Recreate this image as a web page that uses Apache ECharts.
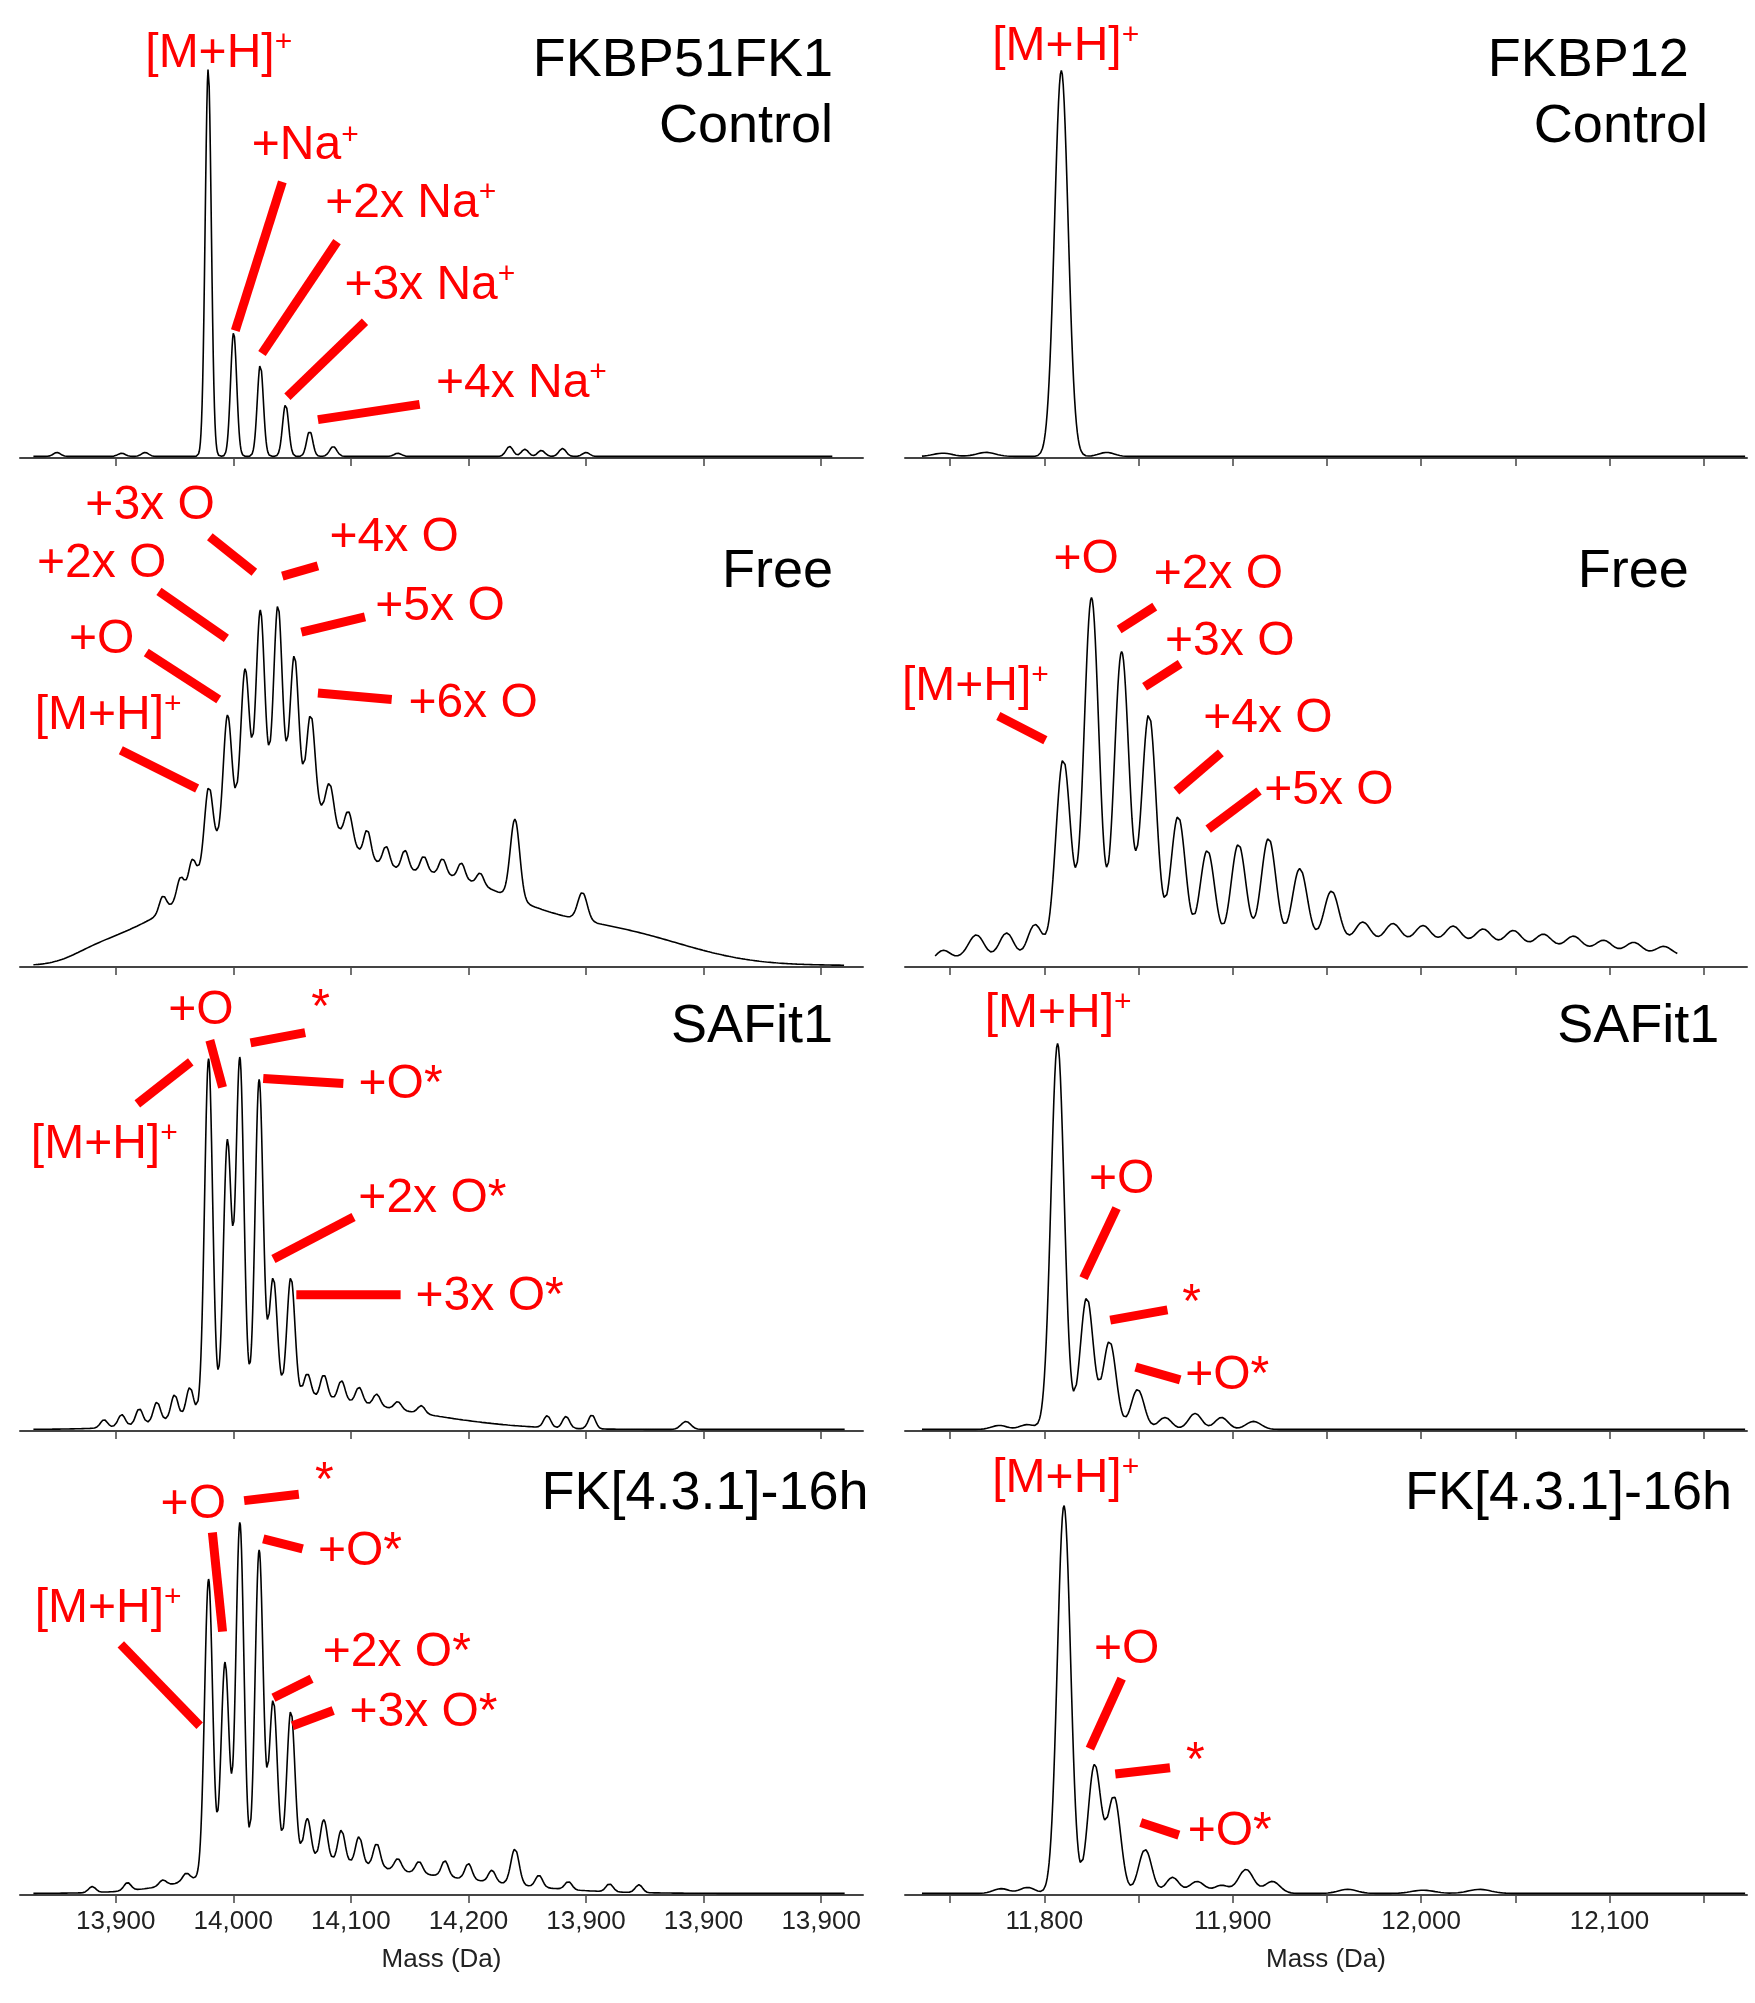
<!DOCTYPE html>
<html><head><meta charset="utf-8">
<script src="https://cdn.jsdelivr.net/npm/echarts@6/dist/echarts.min.js"></script>
<style>html,body{margin:0;background:#fff}#c{width:1755px;height:2003px}</style>
</head><body><div id="c"></div>
<script>
// Tick labels
const leftTickValues = [13900,14000,14100,14200,14300,14400,14500];
const leftTickLabels = ["13,900","14,000","14,100","14,200","13,900","13,900","13,900"];
const rightTickValues = [11800,11900,12000,12100];
const rightTickLabels = ["11,800","11,900","12,000","12,100"];
const rightMinorTicks = [11750,11800,11850,11900,11950,12000,12050,12100,12150];

// Peaks: [mass (Da), relative height, width (Da)]
const fk51Control = [[13978.7,0.97,2.6],[14000.3,0.31,2.6],[14023,0.23,2.6],[14044.5,0.13,2.6],[14065,0.064,2.6],[14085,0.025,3],
  [13850,0.01,3],[13905,0.008,3],[13925,0.01,3],[14140,0.008,3],[14235,0.025,3],[14248,0.018,3],[14262,0.015,3],[14280,0.02,3],[14300,0.01,3]];
const fk12Control = [[11809,0.965,3.6],[11746,0.008,5],[11769,0.01,5],[11833,0.01,4]];
const fk51Free = [[14030,0.42,50],[14170,0.22,75],[14330,0.07,60],[13920,0.06,30],[13880,0.02,20],
  [13979,0.18,3.5],[13995,0.28,3.5],[14010,0.33,3.5],[14023,0.44,3.5],[14038,0.44,3.5],[14052,0.33,3.5],[14066,0.22,3.5],[14082,0.1,3.5],[14098,0.08,3.5],
  [14114,0.07,3],[14130,0.05,3],[14146,0.05,3],[14162,0.04,3],[14178,0.04,3],[14194,0.04,3],[14210,0.03,3],[14239.6,0.2,4],[14297,0.07,4],
  [13940,0.04,3],[13955,0.05,3],[13965,0.06,3]];
const fk12Free = [[11992,0.06,110],[11762,0.02,8],
  [11746,0.03,4],[11764,0.05,4],[11780,0.07,4],[11795,0.09,4],
  [11810,0.5,4],[11825,0.9,4],[11841,0.76,4],[11855.5,0.6,4],[11871,0.34,4],[11886.5,0.25,4],[11903,0.26,4],[11919,0.27,4],
  [11935.6,0.19,4],[11952.4,0.13,4],[11969,0.05,4],[11985,0.045,4],[12001,0.04,4],[12017,0.04,4],[12033,0.035,4],[12049,0.035,4],
  [12065,0.03,4],[12081,0.03,4],[12097,0.025,4],[12113,0.025,4],[12129,0.02,4]];
const fk51Safit = [[14030,0.06,60],[14120,0.04,70],
  [13979,0.88,3.4],[13995,0.66,3.4],[14005.6,0.86,3.4],[14022,0.8,3.4],[14034,0.3,3.4],[14049,0.3,3.4],
  [14063,0.06,3],[14077,0.06,3],[14092,0.05,3],[14107,0.04,3],[14122,0.03,3],[14140,0.02,3],[14160,0.02,3],
  [13890,0.02,3],[13905,0.03,3],[13920,0.04,3],[13935,0.05,3],[13950,0.06,3],[13963,0.07,3],
  [14267,0.03,3],[14283,0.03,3],[14305,0.035,3],[14385,0.02,4]];
const fk12Safit = [[11807,0.965,3.5],[11822.5,0.33,3.5],[11834.6,0.22,3.5],[11849.5,0.1,3.5],[11864,0.03,3.5],[11880,0.04,3.5],[11894,0.03,3.5],[11911,0.02,4],
  [11776,0.01,4],[11791,0.012,4]];
const fk51Fk431 = [[14040,0.07,60],[14150,0.04,80],
  [13979,0.74,3.4],[13993,0.52,3.4],[14005.6,0.86,3.4],[14022,0.78,3.4],[14034,0.4,3.4],[14049,0.37,3.4],
  [14063,0.1,3],[14077,0.1,3],[14092,0.08,3],[14107,0.07,3],[14122,0.06,3],[14140,0.03,3],[14158,0.03,3],[14180,0.04,3],[14200,0.04,3],[14220,0.03,3],[14239.6,0.09,3.5],[14260,0.03,3],[14285,0.02,3],[14320,0.02,3],[14345,0.02,3],
  [13880,0.015,3],[13910,0.02,3],[13940,0.015,3],[13960,0.02,3]];
const fk12Fk431 = [[11810.4,0.97,3.5],[11826.6,0.32,3.5],[11837,0.24,3.5],[11853.5,0.11,3.5],[11868,0.04,3.5],[11881,0.03,4],[11894,0.02,4],[11907,0.06,4],[11921,0.03,4],
  [11777,0.012,4],[11791,0.015,4],[11961,0.01,5],[12001,0.008,6],[12031,0.01,6]];

const S = 1755/1380;
const L = {min:13818.6,max:14535.6}, R = {min:11726,max:12173};
const baselines = [458,967,1431,1895];
const panels = [
  [fk51Control,'L',0,[13830,14510]],[fk12Control,'R',0,[11735,12172]],
  [fk51Free,'L',1,[13830,14520]],[fk12Free,'R',1,[11742,12136]],
  [fk51Safit,'L',2,[13830,14520]],[fk12Safit,'R',2,[11735,12172]],
  [fk51Fk431,'L',3,[13830,14520]],[fk12Fk431,'R',3,[11735,12172]]
];
function curve(peaks,range){
  const out=[];
  for(let x=range[0];x<=range[1];x+=0.5){
    let y=0.004;
    for(const p of peaks){const d=(x-p[0])/p[2]; if(Math.abs(d)<6) y+=p[1]*Math.exp(-0.5*d*d);}
    out.push([x,y]);
  }
  return out;
}
const grids=[],xAxes=[],yAxes=[],series=[];
panels.forEach((p,i)=>{
  const isL=p[1]==='L', row=p[2];
  grids.push({left:isL?20:905,width:isL?843:842,top:baselines[row]-400,height:400});
  const rng=isL?L:R;
  xAxes.push({type:'value',gridIndex:i,min:rng.min,max:rng.max,
    axisLine:{lineStyle:{color:'#444',width:2}},splitLine:{show:false},
    axisTick:{show:true,length:8,lineStyle:{color:'#444',width:1.5},customValues:isL?leftTickValues:rightMinorTicks},
    axisLabel:{show:row===3,customValues:isL?leftTickValues:rightTickValues,fontFamily:'Liberation Sans',fontSize:26,color:'#222',margin:14,
      formatter:v=>{const vals=isL?leftTickValues:rightTickValues,labs=isL?leftTickLabels:rightTickLabels;const k=vals.indexOf(Math.round(v));return k>=0?labs[k]:'';}},
    name:row===3?'Mass (Da)':'',nameLocation:'middle',nameGap:52,nameTextStyle:{fontFamily:'Liberation Sans',fontSize:26,color:'#222'}});
  yAxes.push({type:'value',gridIndex:i,min:0,max:1,show:false});
  series.push({type:'line',xAxisIndex:i,yAxisIndex:i,data:curve(p[0],p[3]),showSymbol:false,animation:false,
    lineStyle:{color:'#000',width:1.6},z:2});
});

// Annotations (displayed coords scaled by S)
const red='#ff0000';
const titles=[['FKBP51FK1',655,48],['Control',655,100],['FKBP12',1328,48],['Control',1343,100],
  ['Free',655,450],['Free',1328,450],['SAFit1',655,808],['SAFit1',1352,808],['FK[4.3.1]-16h',683,1175],['FK[4.3.1]-16h',1362,1175]];
const labels=[
  ['[M+H]|+',172,42],['+Na|+',240,115],['+2x Na|+',323,160],['+3x Na|+',338,225],['+4x Na|+',410,302],['[M+H]|+',838,37],
  ['+3x O',118,398],['+4x O',310,423],['+2x O',80,443],['+5x O',346,477],['+O',80,503],['+6x O',372,553],['[M+H]|+',85,563],
  ['+O',854,440],['+2x O',958,452],['+3x O',967,505],['[M+H]|+',767,540],['+4x O',997,565],['+5x O',1045,622],
  ['+O',158,795],['*',252,793],['+O*',315,853],['[M+H]|+',82,900],['+2x O*',340,943],['+3x O*',385,1020],
  ['[M+H]|+',832,797],['+O',882,928],['*',937,1025],['+O*',965,1082],
  ['+O',152,1183],['*',255,1165],['+O*',283,1220],['[M+H]|+',85,1265],['+2x O*',312,1300],['+3x O*',333,1347],
  ['[M+H]|+',838,1163],['+O',886,1297],['*',940,1385],['+O*',967,1440]];
const leaders=[[222,143,185,260],[265,190,206,278],[287,253,226,312],[330,318,250,330],
  [165,422,200,450],[250,445,222,453],[125,465,178,502],[287,485,237,497],[115,513,172,550],[308,550,250,545],[95,590,155,620],
  [908,477,880,495],[928,522,900,540],[785,563,822,582],[960,592,925,622],[990,622,950,652],
  [165,818,175,855],[240,812,197,820],[270,852,207,848],[108,868,150,835],[278,957,215,990],[315,1018,233,1018],
  [878,950,852,1005],[918,1030,873,1038],[928,1085,893,1075],
  [167,1205,175,1283],[235,1175,192,1180],[238,1218,207,1210],[95,1293,157,1357],[245,1320,215,1335],[262,1345,230,1357],
  [882,1320,857,1375],[920,1390,877,1395],[927,1443,897,1433]];
const graphic=[];
titles.forEach(t=>graphic.push({type:'text',x:t[1]*S,y:t[2]*S,style:{text:t[0],fill:'#000',font:'54px "Liberation Sans"',textAlign:'right',textVerticalAlign:'middle'}}));
labels.forEach(t=>{
  const parts=t[0].split('|');
  const txt=parts.length>1?'{a|'+parts[0]+'}{s|'+parts[1]+'}':'{a|'+parts[0]+'}';
  graphic.push({type:'text',x:t[1]*S,y:t[2]*S,style:{text:txt,textAlign:'center',textVerticalAlign:'middle',
    rich:{a:{fill:red,font:'48px "Liberation Sans"'},s:{fill:red,font:'30px "Liberation Sans"',verticalAlign:'top',padding:[0,0,22,0]}}}});
});
leaders.forEach(l=>graphic.push({type:'line',shape:{x1:l[0]*S,y1:l[1]*S,x2:l[2]*S,y2:l[3]*S},style:{stroke:red,lineWidth:9},z:10}));

const chart=echarts.init(document.getElementById('c'));
chart.setOption({animation:false,grid:grids,xAxis:xAxes,yAxis:yAxes,series:series,graphic:graphic});
</script></body></html>
